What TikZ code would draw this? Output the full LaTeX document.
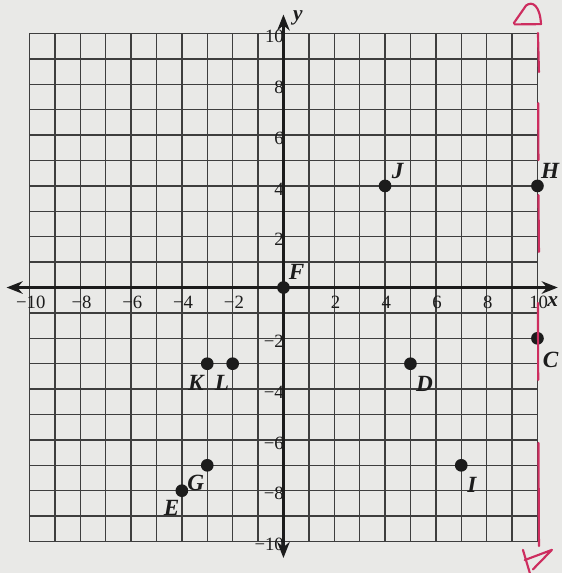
\documentclass[tikz,border=0pt]{standalone}
\usepackage{fontspec}
\setmainfont{Liberation Serif}
\usetikzlibrary{arrows.meta}
\definecolor{paper}{RGB}{233,233,231}
\definecolor{ink}{RGB}{28,28,28}
\definecolor{pinkmark}{RGB}{205,45,95}
\tikzset{
  gridline/.style={draw=ink!85, line width=0.8pt},
  axisline/.style={draw=ink, line width=1.4pt, -{Stealth[length=9pt,width=7pt]}},
  ticklbl/.style={font=\fontsize{10.5}{11}\selectfont, text=ink, inner sep=0pt},
  dot/.style={circle, fill=ink, inner sep=0pt, minimum size=0.25cm},
  ptlbl/.style={font=\fontsize{13}{14}\selectfont\itshape\bfseries, text=ink, inner sep=0pt},
  axlbl/.style={font=\fontsize{12}{13}\selectfont\itshape\bfseries, text=ink, inner sep=0pt},
  pinkline/.style={draw=pinkmark, line width=1.2pt, line cap=round, line join=round}
}
\begin{document}
\begin{tikzpicture}[x=0.5cm,y=0.5cm]
\useasboundingbox (-11.16,-11.24) rectangle (10.96,11.32);
\fill[paper] (-11.16,-11.24) rectangle (10.96,11.32);
% grid
\foreach \k in {-10,...,10} {
  \draw[gridline] (\k,-10) -- (\k,10);
  \draw[gridline] (-10,\k) -- (10,\k);
}
% axes
\coordinate (O) at (0,0);
\coordinate (xr) at (10.8,0);
\coordinate (xl) at (-10.9,0);
\coordinate (yt) at (0,10.75);
\coordinate (yb) at (0,-10.65);
\draw[axisline] (O) -- (xr);
\draw[axisline] (O) -- (xl);
\draw[axisline] (O) -- (yt);
\draw[axisline] (O) -- (yb);
\node[axlbl] (xlab) at (10.6,-0.57) {x};
\node[axlbl] (ylab) at (0.57,10.61) {y};
% x tick labels
\foreach \v/\t in {-10/−10,-8/−8,-6/−6,-4/−4,-2/−2,2/2,4/4,6/6,8/8,10/10}
  \node[ticklbl] (xt\v) at (\v+0.05,-0.57) {\t};
% y tick labels
\foreach \v/\t in {10/10,8/8,6/6,4/4,2/2,-2/−2,-4/−4,-6/−6,-8/−8,-10/−10}
  \node[ticklbl, anchor=east] (yt\v) at (0.03,\v-0.12) {\t};
% points
\node[dot] (F) at (0,0) {};
\node[dot] (J) at (4,4) {};
\node[dot] (H) at (10,4) {};
\node[dot] (C) at (10,-2) {};
\node[dot] (D) at (5,-3) {};
\node[dot] (K) at (-3,-3) {};
\node[dot] (L) at (-2,-3) {};
\node[dot] (G) at (-3,-7) {};
\node[dot] (E) at (-4,-8) {};
\node[dot] (I) at (7,-7) {};
% point labels
\path (F) ++(0.52,0.62) node[ptlbl] {F};
\path (J) ++(0.5,0.58) node[ptlbl] {J};
\path (H) ++(0.5,0.58) node[ptlbl] {H};
\path (C) ++(0.52,-0.85) node[ptlbl] {C};
\path (D) ++(0.55,-0.78) node[ptlbl] {D};
\path (K) ++(-0.45,-0.74) node[ptlbl] {K};
\path (L) ++(-0.42,-0.74) node[ptlbl] {L};
\path (G) ++(-0.45,-0.7) node[ptlbl] {G};
\path (E) ++(-0.4,-0.66) node[ptlbl] {E};
\path (I) ++(0.42,-0.76) node[ptlbl] {I};
% pink hand marks
\draw[pinkline] (10.02,10.02) -- (10.06,8.48);
\draw[pinkline] (10.03,7.26) -- (10.04,5.02);
\draw[pinkline] (10.04,3.64) -- (10.06,1.4);
\draw[pinkline] (10.02,-0.61) -- (10.03,-3.64);
\draw[pinkline] (10.04,-6.12) -- (10.06,-10.18);
\draw[pinkline] (9.07,10.41) -- (9.55,11.1)
  .. controls (9.8,11.3) and (10.1,11.1) .. (10.14,10.37) -- (9.1,10.36);
\draw[pinkline] (9.43,-10.33) -- (9.7,-11.24);
\draw[pinkline] (9.5,-10.73) -- (10.57,-10.33) -- (9.82,-11.1);
\end{tikzpicture}
\end{document}
